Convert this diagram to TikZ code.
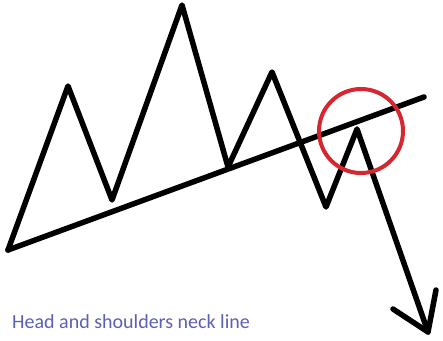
\documentclass[tikz,border=0pt]{standalone}
\usepackage{fontspec}
\setmainfont{Carlito}
\definecolor{circred}{RGB}{214,38,48}
\definecolor{txtblue}{RGB}{92,96,178}
\begin{document}
\begin{tikzpicture}[x=1pt,y=-1pt,
  stroke/.style={line width=5.5pt,line cap=round,line join=round,black},
  ring/.style={line width=4pt,circred},
  caption/.style={anchor=base west,inner sep=0pt,text=txtblue,font=\fontsize{20}{22}\selectfont}]
\useasboundingbox (0,0) rectangle (443,340);
\coordinate (s) at (8,250);
\coordinate (p1) at (68,86);
\coordinate (t1) at (112,200);
\coordinate (p2) at (182,5);
\coordinate (t2) at (228,167);
\coordinate (p3) at (272,72);
\coordinate (t3) at (326,207);
\coordinate (p4) at (357,129);
\coordinate (tip) at (428,332);
\coordinate (al) at (393,309);
\coordinate (ar) at (436,290);
\coordinate (nend) at (424,97);
\coordinate (cc) at (361,131);
\draw[stroke] (s) -- (p1) -- (t1) -- (p2) -- (t2) -- (p3) -- (t3) -- (p4) -- (tip);
\draw[stroke] (al) -- (tip) -- (ar);
\draw[stroke] (s) -- (nend);
\draw[ring] (cc) circle[radius=42];
\node[caption] (cap) at (12,328) {Head and shoulders neck line};
\end{tikzpicture}
\end{document}
